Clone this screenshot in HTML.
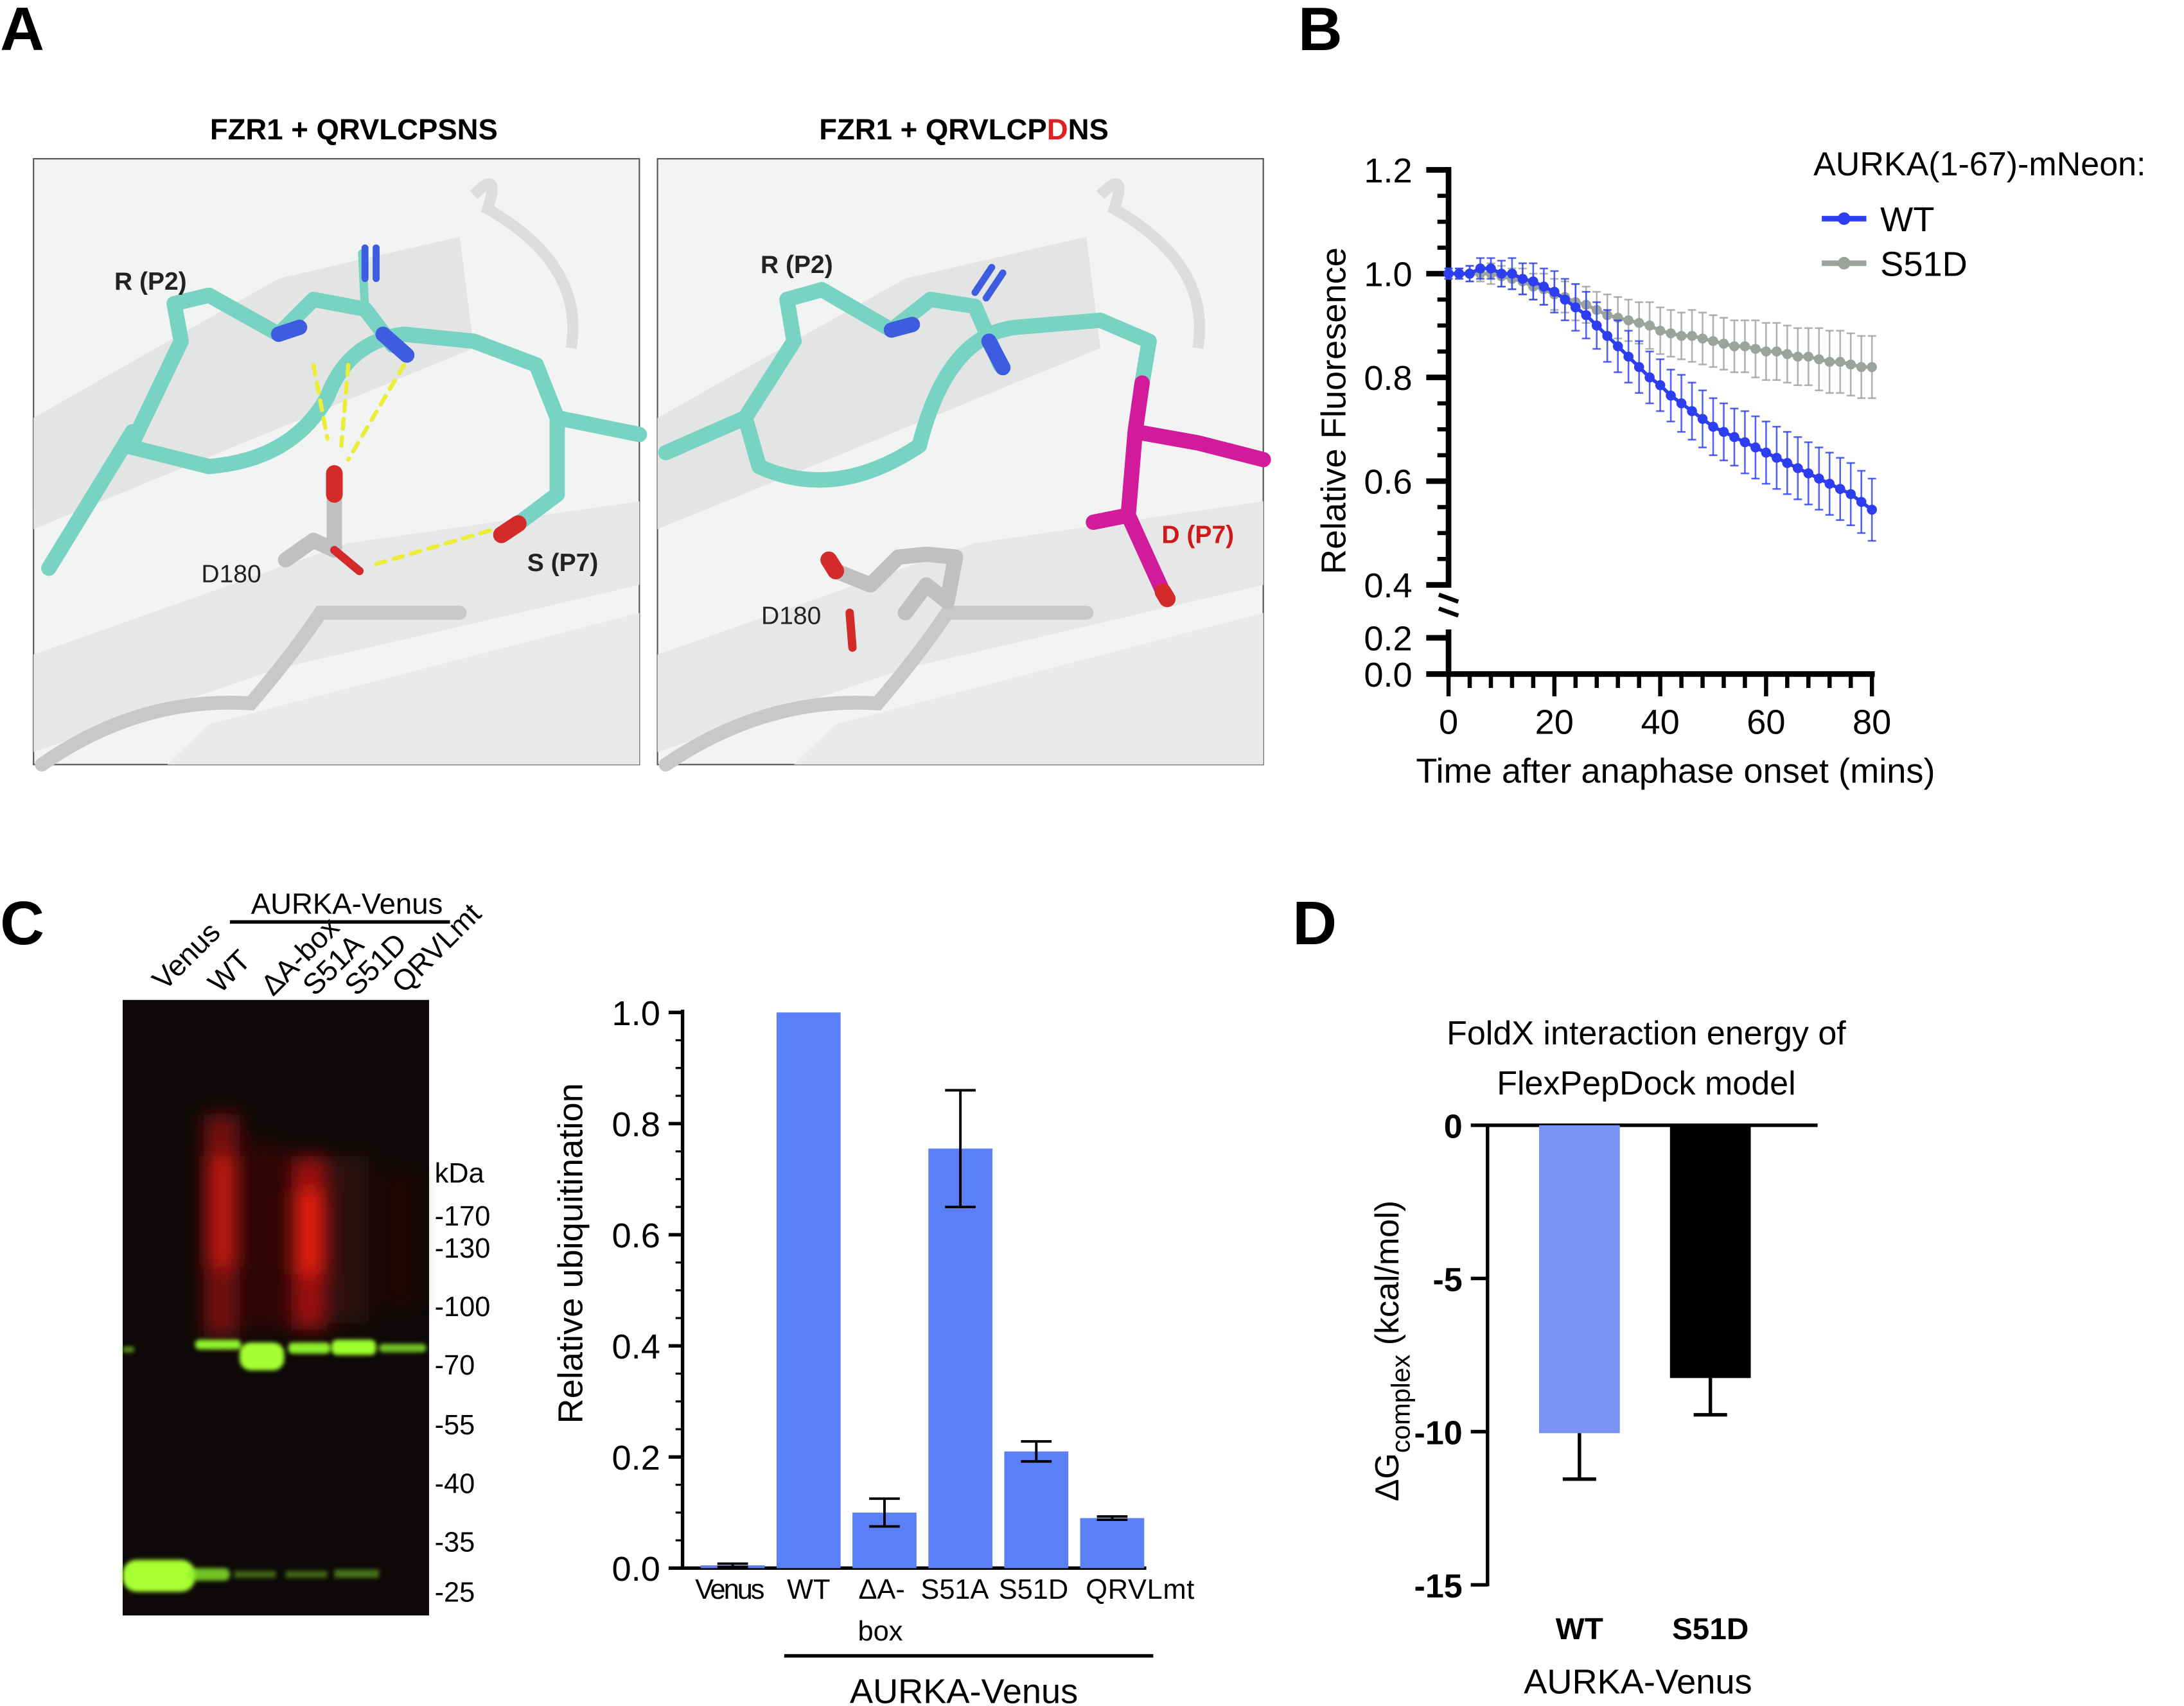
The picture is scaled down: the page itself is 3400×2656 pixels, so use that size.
<!DOCTYPE html>
<html><head><meta charset="utf-8"><style>
html,body{margin:0;padding:0;background:#fff}
svg{display:block}
text{font-family:"Liberation Sans",sans-serif}
</style></head><body>
<svg id="fig" width="3400" height="2656" viewBox="0 0 1568 1225" xmlns="http://www.w3.org/2000/svg">
<defs>
<filter id="blur8" x="-50%" y="-50%" width="200%" height="200%"><feGaussianBlur stdDeviation="7"/></filter>
<filter id="blur1" x="-50%" y="-50%" width="200%" height="200%"><feGaussianBlur stdDeviation="1.5"/></filter>
</defs>
<rect width="1568" height="1225" fill="#fff"/>

<text x="0" y="36" font-size="44" font-weight="bold">A</text>
<text x="932" y="36" font-size="44" font-weight="bold">B</text>
<text x="0" y="678" font-size="44" font-weight="bold">C</text>
<text x="928" y="678" font-size="44" font-weight="bold">D</text>

<!-- Panel A -->
<g>
<text x="254" y="100" font-size="21" font-weight="bold" text-anchor="middle">FZR1 + QRVLCPSNS</text>
<rect x="24" y="114" width="435" height="435" fill="#f2f3f3" stroke="#555" stroke-width="1"/>
<path d="M24 300 L200 200 L330 170 L340 250 L24 380 Z" fill="#e3e5e5"/>
<path d="M24 470 L250 390 L459 360 L459 420 L200 480 L24 540 Z" fill="#e6e8e8"/>
<path d="M150 520 L459 440 L459 549 L120 549 Z" fill="#e9ebeb"/>
<path d="M340 140 Q360 120 350 150 Q420 190 410 250" stroke="#dcdede" stroke-width="8" fill="none"/>
<path d="M30 549 Q100 500 180 505 Q210 470 230 440 L330 440" stroke="#c7c9c9" stroke-width="10" fill="none" stroke-linecap="round"/>
<g stroke-linecap="round" stroke-linejoin="round" fill="none">
<path d="M35 408 L95 310 L90 320 L150 335 Q210 330 235 285 Q250 245 290 240 L340 245 L385 262 L400 300 L459 312" stroke="#78d3c2" stroke-width="11"/>
<path d="M95 318 L130 245 L125 218 L150 212 L200 240 L225 215 L262 222 L282 248" stroke="#78d3c2" stroke-width="11"/>
<path d="M262 222 L260 182" stroke="#78d3c2" stroke-width="6"/>
<path d="M200 240 L215 235" stroke="#3d5ce0" stroke-width="11"/>
<path d="M262 200 L262 178 M270 200 L270 178" stroke="#3d5ce0" stroke-width="5"/>
<path d="M275 240 L292 255" stroke="#3d5ce0" stroke-width="11"/>
<path d="M400 300 L400 355 L372 376" stroke="#78d3c2" stroke-width="11"/>
<path d="M372 376 L360 384" stroke="#d42a2a" stroke-width="12"/>
<path d="M205 402 L225 388 L240 395 L240 355" stroke="#bfc1c1" stroke-width="11"/>
<path d="M240 355 L240 340" stroke="#d42a2a" stroke-width="12"/>
<path d="M240 395 L258 410" stroke="#d42a2a" stroke-width="6"/>
<path d="M225 262 L235 315 M250 262 L245 320 M290 262 L250 330 M270 405 L355 380" stroke="#ecec3a" stroke-width="3" stroke-dasharray="7 6"/>
</g>
<text x="108" y="208" font-size="18" font-weight="bold" text-anchor="middle" fill="#222">R (P2)</text>
<text x="166" y="418" font-size="18" text-anchor="middle" fill="#222">D180</text>
<text x="404" y="410" font-size="18" font-weight="bold" text-anchor="middle" fill="#222">S (P7)</text>
</g>

<g>
<text x="692" y="100" font-size="21" font-weight="bold" text-anchor="middle">FZR1 + QRVLCP<tspan fill="#e02020">D</tspan>NS</text>
<rect x="472" y="114" width="435" height="435" fill="#f2f3f3" stroke="#555" stroke-width="1"/>
<path d="M472 300 L650 200 L780 170 L790 250 L472 380 Z" fill="#e3e5e5"/>
<path d="M472 470 L700 390 L907 360 L907 420 L650 480 L472 540 Z" fill="#e6e8e8"/>
<path d="M600 520 L907 440 L907 549 L570 549 Z" fill="#e9ebeb"/>
<path d="M790 140 Q810 120 800 150 Q870 190 860 250" stroke="#dcdede" stroke-width="8" fill="none"/>
<path d="M478 549 Q550 500 630 505 Q660 470 680 440 L780 440" stroke="#c7c9c9" stroke-width="10" fill="none" stroke-linecap="round"/>
<g stroke-linecap="round" stroke-linejoin="round" fill="none">
<path d="M478 325 L535 300 L545 335 Q600 360 660 320 Q680 240 730 235 L790 230 L825 245 L820 275" stroke="#78d3c2" stroke-width="11"/>
<path d="M535 300 L570 245 L565 215 L590 208 L640 237 L668 215 L700 220 L718 262" stroke="#78d3c2" stroke-width="11"/>
<path d="M640 237 L655 233" stroke="#3d5ce0" stroke-width="11"/>
<path d="M700 210 L712 192 M708 214 L720 196" stroke="#3d5ce0" stroke-width="5"/>
<path d="M710 245 L720 264" stroke="#3d5ce0" stroke-width="11"/>
<path d="M820 275 L815 310 L860 318 L907 330 M815 310 L810 370 L835 425 M810 370 L785 375" stroke="#d21b9a" stroke-width="11"/>
<path d="M835 425 L838 430" stroke="#d42a2a" stroke-width="12"/>
<path d="M650 440 L665 420 L680 432 L686 400 L665 398 L645 400 L625 420 L600 410" stroke="#bfc1c1" stroke-width="11"/>
<path d="M600 410 L595 402" stroke="#d42a2a" stroke-width="12"/>
<path d="M610 440 L612 465" stroke="#d42a2a" stroke-width="6"/>
</g>
<text x="572" y="196" font-size="18" font-weight="bold" text-anchor="middle" fill="#222">R (P2)</text>
<text x="568" y="448" font-size="18" text-anchor="middle" fill="#222">D180</text>
<text x="860" y="390" font-size="18" font-weight="bold" text-anchor="middle" fill="#d01818">D (P7)</text>
</g>

<g id="chartB"></g>

<!-- Panel C blot -->
<g>
<text x="249" y="656" font-size="21" text-anchor="middle">AURKA-Venus</text>
<line x1="165" y1="662" x2="323" y2="662" stroke="#000" stroke-width="2.5"/>
<rect x="88" y="718" width="220" height="442" fill="#0c0908"/>
<g filter="url(#blur8)">
<rect x="146" y="800" width="26" height="160" fill="#a01010" opacity="0.7"/>
<rect x="150" y="830" width="20" height="80" fill="#e01a10" opacity="0.7"/>
<rect x="180" y="820" width="22" height="135" fill="#5a0808" opacity="0.5"/>
<rect x="209" y="830" width="26" height="125" fill="#c01010" opacity="0.8"/>
<rect x="211" y="855" width="22" height="60" fill="#f02010" opacity="0.85"/>
<rect x="241" y="830" width="24" height="120" fill="#501010" opacity="0.5"/>
<rect x="274" y="840" width="26" height="100" fill="#300808" opacity="0.5"/>
</g>
<g filter="url(#blur1)" fill="#8cf02a">
<rect x="140" y="962" width="33" height="7" rx="3"/>
<rect x="172" y="964" width="32" height="20" rx="8" fill="#a4ff30"/>
<rect x="207" y="964" width="30" height="8" rx="3"/>
<rect x="238" y="962" width="32" height="11" rx="4" fill="#9cff2a"/>
<rect x="272" y="965" width="34" height="6" rx="3" opacity="0.8"/>
<rect x="88" y="967" width="8" height="4" opacity="0.6"/>
<rect x="88" y="1120" width="52" height="23" rx="10" fill="#a8ff30"/>
<rect x="135" y="1126" width="30" height="9" rx="4" opacity="0.8"/>
<rect x="168" y="1128" width="30" height="5" opacity="0.4"/>
<rect x="205" y="1128" width="30" height="5" opacity="0.4"/>
<rect x="240" y="1127" width="32" height="6" opacity="0.45"/>
</g>
<g font-size="21">
<text transform="translate(118,712) rotate(-45)">Venus</text>
<text transform="translate(158,714) rotate(-45)">WT</text>
<text transform="translate(196,716) rotate(-45)">ΔA-box</text>
<text transform="translate(226,716) rotate(-45)">S51A</text>
<text transform="translate(256,716) rotate(-45)">S51D</text>
<text transform="translate(290,714) rotate(-45)">QRVLmt</text>
</g>
<g font-size="20">
<text x="312" y="849">kDa</text>
<text x="312" y="880">-170</text><text x="312" y="903">-130</text>
<text x="312" y="945">-100</text><text x="312" y="987">-70</text>
<text x="312" y="1030">-55</text><text x="312" y="1072">-40</text>
<text x="312" y="1114">-35</text><text x="312" y="1150">-25</text>
</g>
</g>
<g id="chartC"></g>
<g id="chartD"></g>
</svg>
<script>
const NS="http://www.w3.org/2000/svg";
function mk(p,tag,a,txt){const e=document.createElementNS(NS,tag);for(const k in a)e.setAttribute(k,a[k]);if(txt!==undefined)e.textContent=txt;p.appendChild(e);return e;}

const timesB=[0,2,4,6,8,10,12,14,16,18,20,22,24,26,28,30,32,34,36,38,40,42,44,46,48,50,52,54,56,58,60,62,64,66,68,70,72,74,76,78,80];
const wtVals=[1.0,1.0,1.0,1.01,1.01,1.0,1.0,0.99,0.985,0.975,0.965,0.95,0.935,0.92,0.9,0.88,0.86,0.84,0.82,0.8,0.785,0.765,0.75,0.735,0.72,0.705,0.695,0.685,0.675,0.665,0.655,0.645,0.635,0.625,0.615,0.605,0.595,0.585,0.575,0.56,0.545];
const wtErr=[0.01,0.01,0.015,0.02,0.02,0.025,0.03,0.03,0.035,0.035,0.04,0.04,0.045,0.045,0.045,0.05,0.05,0.05,0.05,0.05,0.05,0.05,0.055,0.055,0.055,0.055,0.055,0.055,0.06,0.06,0.06,0.06,0.06,0.06,0.06,0.06,0.06,0.06,0.06,0.06,0.06];
const s51dVals=[1.0,1.0,1.0,1.0,1.0,0.995,0.99,0.985,0.975,0.97,0.96,0.955,0.945,0.94,0.93,0.92,0.915,0.91,0.905,0.9,0.89,0.885,0.88,0.88,0.875,0.87,0.865,0.86,0.86,0.855,0.85,0.85,0.845,0.84,0.84,0.835,0.83,0.83,0.825,0.82,0.82];
const s51dErr=[0.01,0.01,0.015,0.015,0.02,0.02,0.02,0.025,0.025,0.03,0.03,0.03,0.035,0.035,0.035,0.04,0.04,0.04,0.04,0.045,0.045,0.045,0.045,0.05,0.05,0.05,0.05,0.05,0.05,0.055,0.055,0.055,0.055,0.055,0.055,0.06,0.06,0.06,0.06,0.06,0.06];
const yTicksB=[0.4,0.6,0.8,1.0,1.2];
const yTicksBLow=[0.0,0.2];
const xTicksB=[0,20,40,60,80];

(function(){
const g=document.getElementById('chartB');
const X=t=>1040+t*3.8;
const Y=v=>420-(v-0.4)*372.5;
const YL=v=>484-v*130;
const ax=mk(g,'g',{stroke:'#000','stroke-width':4,fill:'none'});


mk(ax,'line',{x1:1040,y1:Y(1.2)-2,x2:1040,y2:Y(0.4)+2});
mk(ax,'line',{x1:1040,y1:YL(0.2)-6,x2:1040,y2:486});
mk(ax,'line',{x1:1033,y1:427,x2:1047,y2:432,'stroke-width':3});
mk(ax,'line',{x1:1033,y1:437,x2:1047,y2:442,'stroke-width':3});
mk(ax,'line',{x1:1038,y1:484,x2:X(80)+2,y2:484});
yTicksB.forEach(v=>{mk(ax,'line',{x1:1024,y1:Y(v),x2:1040,y2:Y(v)});const t=mk(g,'text',{x:1014,y:Y(v)+9,'font-size':25,'text-anchor':'end'},v.toFixed(1));
 if(v<1.2){for(let k=1;k<4;k++){const yy=Y(v+k*0.05);mk(ax,'line',{x1:1032,y1:yy,x2:1040,y2:yy,'stroke-width':3});}}});
yTicksBLow.forEach(v=>{mk(ax,'line',{x1:1024,y1:YL(v),x2:1040,y2:YL(v)});const t=mk(g,'text',{x:1014,y:YL(v)+9,'font-size':25,'text-anchor':'end'},v.toFixed(1));});
for(let t=0;t<=80;t+=4){mk(ax,'line',{x1:X(t),y1:484,x2:X(t),y2:t%20===0?500:494,'stroke-width':3});}
xTicksB.forEach(v=>{const t=mk(g,'text',{x:X(v),y:527,'font-size':25,'text-anchor':'middle'},v);});
let t=mk(g,'text',{x:1203,y:562,'font-size':25,'text-anchor':'middle'},'Time after anaphase onset (mins)');

t=mk(g,'text',{transform:'translate(966,295) rotate(-90)','font-size':25,'text-anchor':'middle'},'Relative Fluoresence');

function series(vals,errs,col,name){
 const s=mk(g,'g',{});
 
 
 vals.forEach((v,i)=>{const x=X(timesB[i]);mk(s,'line',{x1:x,y1:Y(v-errs[i]),x2:x,y2:Y(v+errs[i]),stroke:col,'stroke-width':1.2,opacity:0.8});
  mk(s,'line',{x1:x-3,y1:Y(v-errs[i]),x2:x+3,y2:Y(v-errs[i]),stroke:col,'stroke-width':1.2,opacity:0.8});
  mk(s,'line',{x1:x-3,y1:Y(v+errs[i]),x2:x+3,y2:Y(v+errs[i]),stroke:col,'stroke-width':1.2,opacity:0.8});});
 mk(s,'polyline',{points:vals.map((v,i)=>X(timesB[i])+','+Y(v)).join(' '),fill:'none',stroke:col,'stroke-width':2.5});
 vals.forEach((v,i)=>{const c=mk(s,'circle',{cx:X(timesB[i]),cy:Y(v),r:3.6,fill:col});});
}
series(s51dVals,s51dErr,'#9aa39c','s51d-series');
series(wtVals,wtErr,'#2c3ef0','wt-series');
t=mk(g,'text',{x:1302,y:126,'font-size':24},'AURKA(1-67)-mNeon:');

[['WT','#2c3ef0',157],['S51D','#9aa39c',189]].forEach(([n,c,y])=>{
 const le=mk(g,'g',{});
 mk(le,'line',{x1:1308,y1:y,x2:1340,y2:y,stroke:c,'stroke-width':4});
 mk(le,'circle',{cx:1324,cy:y,r:4.5,fill:c});
 mk(le,'text',{x:1350,y:y+9,'font-size':25},n);});
})();

const catsC=['Venus','WT','ΔA-','S51A','S51D','QRVLmt'];
const valsC=[0.005,1.0,0.1,0.755,0.21,0.09];
const errC=[0.003,0,0.025,0.105,0.018,0.003];
const yTicksC=[0.0,0.2,0.4,0.6,0.8,1.0];
(function(){
const g=document.getElementById('chartC');
const Y=v=>1126-v*399;
const X=i=>526+i*54.5;
const ax=mk(g,'g',{stroke:'#000','stroke-width':2.5});

mk(ax,'line',{x1:490,y1:Y(1)-2,x2:490,y2:1127});
mk(ax,'line',{x1:489,y1:1126,x2:823,y2:1126});
yTicksC.forEach(v=>{mk(ax,'line',{x1:480,y1:Y(v),x2:490,y2:Y(v)});
 for(const h of [0.05,0.1,0.15]) if(v+h<=1.001) mk(ax,'line',{x1:485,y1:Y(v+h),x2:490,y2:Y(v+h),'stroke-width':1.5});
 const t=mk(g,'text',{x:474,y:Y(v)+9,'font-size':25,'text-anchor':'end'},v.toFixed(1));});
const labOff=[-2,0,-2,-4,-2,20];
valsC.forEach((v,i)=>{const b=mk(g,'rect',{x:X(i)-23,y:Y(v),width:46,height:1126-Y(v),fill:'#5b7ff5'});
 
 if(errC[i]>0){const e=errC[i],x=X(i);
  mk(g,'line',{x1:x,y1:Y(v-e),x2:x,y2:Y(v+e),stroke:'#000','stroke-width':1.8});
  mk(g,'line',{x1:x-11,y1:Y(v-e),x2:x+11,y2:Y(v-e),stroke:'#000','stroke-width':1.8});
  mk(g,'line',{x1:x-11,y1:Y(v+e),x2:x+11,y2:Y(v+e),stroke:'#000','stroke-width':1.8});}
 const t=mk(g,'text',{x:X(i)+labOff[i],y:1148,'font-size':20,'text-anchor':'middle','textLength':catsC[i].length>4?(i==0?50:78):null},catsC[i]);
 if(catsC[i].length<=4)t.removeAttribute('textLength');
 });
let t=mk(g,'text',{x:632,y:1178,'font-size':20,'text-anchor':'middle'},'box');
mk(g,'line',{x1:563,y1:1189,x2:828,y2:1189,stroke:'#000','stroke-width':2.5});
t=mk(g,'text',{x:692,y:1223,'font-size':25,'text-anchor':'middle'},'AURKA-Venus');
t=mk(g,'text',{transform:'translate(418,900) rotate(-90)','font-size':25,'text-anchor':'middle'},'Relative ubiquitination');
})();

const catsD=['WT','S51D'];
const valsD=[-10.05,-8.25];
const errD=[1.5,1.2];
const yTicksD=[0,-5,-10,-15];
(function(){
const g=document.getElementById('chartD');
const Y=v=>808-v*22;
const X=i=>1134+i*94;
const cols=['#7a93f2','#000'];
let t=mk(g,'text',{x:1182,y:750,'font-size':24,'text-anchor':'middle'},'FoldX interaction energy of');
t=mk(g,'text',{x:1182,y:786,'font-size':24,'text-anchor':'middle'},'FlexPepDock model');
const ax=mk(g,'g',{stroke:'#000','stroke-width':2.5});
mk(ax,'line',{x1:1068,y1:807,x2:1068,y2:Y(-15)+1});
mk(ax,'line',{x1:1068,y1:808,x2:1305,y2:808});
yTicksD.forEach(v=>{mk(ax,'line',{x1:1056,y1:Y(v),x2:1068,y2:Y(v)});
 const t=mk(g,'text',{x:1050,y:Y(v)+9,'font-size':24,'font-weight':'bold','text-anchor':'end'},v);});
valsD.forEach((v,i)=>{const b=mk(g,'rect',{x:X(i)-29,y:808,width:58,height:Y(v)-808,fill:cols[i]});
 
 const x=X(i),lo=v-errD[i];
 mk(g,'line',{x1:x,y1:Y(v),x2:x,y2:Y(lo),stroke:'#000','stroke-width':2.5});
 mk(g,'line',{x1:x-12,y1:Y(lo),x2:x+12,y2:Y(lo),stroke:'#000','stroke-width':2.5});
 const tt=mk(g,'text',{x:x,y:1177,'font-size':22,'font-weight':'bold','text-anchor':'middle'},catsD[i]);});
t=mk(g,'text',{x:1176,y:1216,'font-size':25,'text-anchor':'middle'},'AURKA-Venus');
t=mk(g,'text',{transform:'translate(1004,970) rotate(-90)','font-size':24,'text-anchor':'middle'});

mk(t,'tspan',{},'ΔG');mk(t,'tspan',{dy:8,'font-size':19},'complex');mk(t,'tspan',{dy:-8},' (kcal/mol)');
})();
</script>
</body></html>
